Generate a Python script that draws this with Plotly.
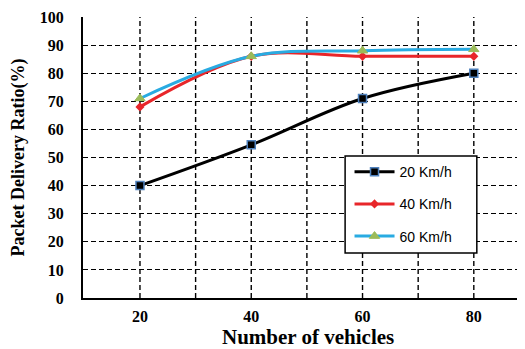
import plotly.graph_objects as go

vehicles = [20, 40, 60, 80]
pdr_20 = [40, 54.5, 71, 80]
pdr_40 = [68, 86, 86, 86]
pdr_60 = [71, 86, 88, 88.5]
x_ticks = [20, 40, 60, 80]
y_ticks = [0, 10, 20, 30, 40, 50, 60, 70, 80, 90, 100]
x_title = "Number of vehicles"
y_title = "Packet Delivery Ratio(%)"

fig = go.Figure()
fig.add_trace(go.Scatter(x=vehicles, y=pdr_20, name="20 Km/h", mode="lines+markers",
                         legendgroup="a",
                         line=dict(color="black", width=3, shape="spline"),
                         marker=dict(symbol="square", size=8, color="black",
                                     line=dict(color="#4f81bd", width=1.5))))
fig.add_trace(go.Scatter(x=vehicles, y=pdr_40, name="40 Km/h", mode="lines+markers",
                         legendgroup="b",
                         line=dict(color="#e8262a", width=3, shape="spline"),
                         marker=dict(symbol="diamond", size=7, color="#e8262a")))
fig.add_trace(go.Scatter(x=vehicles, y=pdr_60, name="60 Km/h", mode="lines+markers",
                         legendgroup="c",
                         line=dict(color="#29abe2", width=3, shape="spline"),
                         marker=dict(symbol="triangle-up", size=9, color="#9bbb59",
                                     line=dict(color="#9bbb59", width=1))))

serif = "Liberation Serif"
dash = "5px,3px"
fig.update_layout(
    width=517, height=341,
    margin=dict(l=75, r=0, t=9, b=51),
    paper_bgcolor="white", plot_bgcolor="white",
    showlegend=True,
    legend=dict(x=0.603, y=0.505, xanchor="left", yanchor="top",
                bgcolor="rgba(0,0,0,0)", borderwidth=0,
                font=dict(family="Liberation Sans", size=14, color="black"),
                tracegroupgap=11, itemwidth=40),
    xaxis=dict(range=[9.76, 89.2], tickvals=x_ticks, showgrid=False, automargin=False,
               showline=True, linecolor="black", linewidth=2, zeroline=False,
               ticks="", ticklen=0, ticklabelstandoff=3,
               tickfont=dict(family=serif, size=16, color="black", weight="bold")),
    yaxis=dict(range=[0, 100], tickvals=y_ticks, showgrid=True, gridcolor="black",
               griddash=dash, gridwidth=1.4, automargin=False,
               showline=True, linecolor="black", linewidth=2, zeroline=False,
               ticks="", ticklen=0, ticklabelstandoff=14,
               tickfont=dict(family=serif, size=16, color="black", weight="bold"),
               title=dict(text=y_title, standoff=10,
                          font=dict(family=serif, size=18, color="black", weight="bold"))),
)
fig.add_annotation(text=x_title, xref="paper", yref="paper", x=0.508, y=-0.139,
                   xanchor="center", yanchor="middle", showarrow=False, borderpad=0,
                   font=dict(family=serif, size=21, color="black", weight="bold"))
for xv in [20, 30, 40, 50, 60, 70, 80]:
    fig.add_vline(x=xv, line=dict(color="black", width=1.4, dash=dash), layer="below")

# legend frame
fig.add_shape(type="rect", xref="paper", yref="paper", x0=0.593, x1=0.891, y0=0.160, y1=0.505,
              fillcolor="white", line=dict(color="black", width=1.5), layer="above")

fig.write_html("out.html")
